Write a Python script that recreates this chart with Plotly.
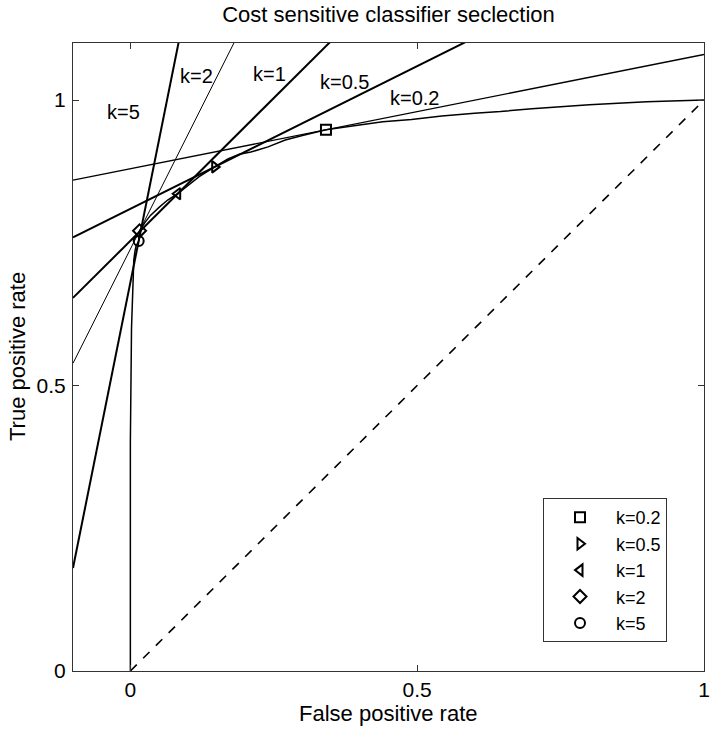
import plotly.graph_objects as go

# ROC curve (false positive rate, true positive rate)
roc_fpr = [0, 0, 0.002, 0.004, 0.006, 0.008, 0.010, 0.0145, 0.016, 0.025, 0.035, 0.05,
           0.065, 0.0825, 0.10, 0.12, 0.147, 0.17, 0.19, 0.21, 0.24, 0.27, 0.30, 0.341,
           0.39, 0.44, 0.49, 0.543, 0.60, 0.645, 0.70, 0.80, 0.90, 1.0]
roc_tpr = [0, 0.40, 0.60, 0.68, 0.72, 0.735, 0.745, 0.753, 0.771, 0.785, 0.798, 0.812,
           0.825, 0.836, 0.85, 0.866, 0.883, 0.897, 0.905, 0.909, 0.918, 0.93, 0.938, 0.948,
           0.955, 0.962, 0.966, 0.972, 0.977, 0.98, 0.985, 0.992, 0.997, 1.0]

# cost ratios, chosen operating points, marker symbols
k_values = [0.2, 0.5, 1, 2, 5]
k_names = ["k=0.2", "k=0.5", "k=1", "k=2", "k=5"]
op_fpr = [0.341, 0.147, 0.0825, 0.016, 0.0145]
op_tpr = [0.948, 0.883, 0.836, 0.771, 0.753]
symbols = ["square-open", "triangle-right-open", "triangle-left-open", "diamond-open", "circle-open"]
line_widths = [1.4, 2.0, 2.0, 1.0, 2.0]

# label positions for the iso-cost lines
label_x = [0.496, 0.374, 0.243, 0.116, -0.012]
label_y = [1.003, 1.031, 1.045, 1.042, 0.979]

x_range = [-0.1, 1.0]
y_range = [0, 1.1]

font = "Liberation Sans, Arial, sans-serif"

fig = go.Figure()

# iso-cost (tangent) lines
for k, x0, y0, w in zip(k_values, op_fpr, op_tpr, line_widths):
    xs = [x_range[0], x_range[1]]
    ys = [y0 + k * (x - x0) for x in xs]
    fig.add_trace(go.Scatter(x=xs, y=ys, mode="lines", showlegend=False,
                             line=dict(color="black", width=w), hoverinfo="skip"))

# diagonal
fig.add_trace(go.Scatter(x=[0, 1], y=[0, 1], mode="lines", showlegend=False,
                         line=dict(color="black", width=1.6, dash="dash")))

# ROC curve
fig.add_trace(go.Scatter(x=roc_fpr, y=roc_tpr, mode="lines", showlegend=False,
                         line=dict(color="black", width=1.5)))

# operating points
for name, x0, y0, sym in zip(k_names, op_fpr, op_tpr, symbols):
    fig.add_trace(go.Scatter(x=[x0], y=[y0], mode="markers", name=name,
                             marker=dict(symbol=sym, size=10, color="black",
                                         line=dict(width=2, color="black"))))

for name, lx, ly in zip(k_names, label_x, label_y):
    fig.add_annotation(x=lx, y=ly, text=name, showarrow=False,
                       font=dict(family=font, size=20, color="black"))

# axis titles
fig.add_annotation(x=0.5, y=-42 / 628, xref="paper", yref="paper", text="False positive rate",
                   showarrow=False, yanchor="middle",
                   font=dict(family=font, size=22, color="black"))
fig.add_annotation(x=-56 / 631, y=0.5, xref="paper", yref="paper", text="True positive rate",
                   showarrow=False, textangle=-90, xanchor="center",
                   font=dict(family=font, size=22, color="black"))

axis_common = dict(showline=True, linecolor="#333", linewidth=1, mirror="ticks",
                   ticks="inside", ticklen=6, tickcolor="#333", showgrid=False,
                   zeroline=False, automargin=False,
                   tickfont=dict(family=font, size=21, color="black"))

fig.update_layout(
    width=712, height=734,
    margin=dict(l=73, r=8, t=43, b=63),
    paper_bgcolor="white", plot_bgcolor="white",
    title=dict(text="Cost sensitive classifier seclection", x=0.5, xref="paper",
               y=1 - 14 / 734, yanchor="middle", yref="container", automargin=False,
               font=dict(family=font, size=22, color="black")),
    xaxis=dict(range=x_range, tickvals=[0, 0.5, 1], ticktext=["0", "0.5", "1"],
               ticklabelstandoff=0, **axis_common),
    yaxis=dict(range=y_range, tickvals=[0, 0.5, 1], ticktext=["0", "0.5", "1"],
               ticklabelstandoff=2, **axis_common),
    legend=dict(x=(543 - 73) / 631, y=0.046, xanchor="left", yanchor="bottom",
                bordercolor="#333", borderwidth=1, bgcolor="white",
                itemwidth=62, font=dict(family=font, size=18, color="black"),
                tracegroupgap=0),
    showlegend=True,
)

fig.write_html("out.html", config={"displayModeBar": False},
               post_script="document.body.style.margin='0';document.body.style.overflow='hidden';")
